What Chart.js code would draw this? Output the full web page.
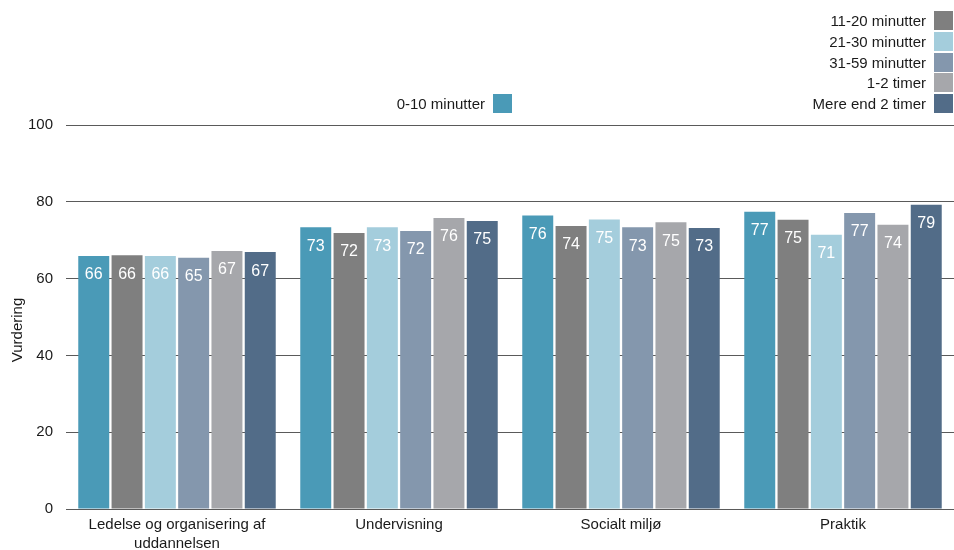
<!DOCTYPE html>
<html>
<head>
<meta charset="utf-8">
<script src="https://cdn.jsdelivr.net/npm/chart.js@4/dist/chart.umd.min.js"></script>
<style>
  body { margin: 0; background: #fff; }
  #wrap { position: relative; width: 954px; height: 550px; }
  .leg { position: absolute; display: flex; align-items: center; justify-content: flex-end;
         font: 15px "Liberation Sans", Arial, sans-serif; color: #1a1a1a; height: 19px; }
  .leg span.box { display: inline-block; width: 19px; height: 19px; margin-left: 8px; }
</style>
</head>
<body>
<div id="wrap">
  <canvas id="myChart" width="954" height="550"></canvas>
</div>
<script>
var categories = [['Ledelse og organisering af', 'uddannelsen'], 'Undervisning', 'Socialt miljø', 'Praktik'];
var seriesNames = ['0-10 minutter', '11-20 minutter', '21-30 minutter', '31-59 minutter', '1-2 timer', 'Mere end 2 timer'];
var min0_10  = [65.9, 73.4, 76.4, 77.4];
var min11_20 = [66.1, 71.9, 73.7, 75.3];
var min21_30 = [65.9, 73.4, 75.4, 71.4];
var min31_59 = [65.4, 72.4, 73.4, 77.1];
var timer1_2 = [67.2, 75.8, 74.7, 74.0];
var mereEnd2 = [66.9, 75.0, 73.2, 79.2];
var colors = ['#4a9ab7', '#7f7f7f', '#a4cddc', '#8497ad', '#a6a7ab', '#526c88'];
var yTicks = [0, 20, 40, 60, 80, 100];
var yTitle = 'Vurdering';

var seriesValues = [min0_10, min11_20, min21_30, min31_59, timer1_2, mereEnd2];
var fontFam = '"Liberation Sans", Arial, sans-serif';

// labels inside the top of each bar, plus the y title
var barLabels = {
  id: 'barLabels',
  afterDatasetsDraw: function(chart) {
    var ctx = chart.ctx;
    ctx.save();
    ctx.fillStyle = '#ffffff';
    ctx.font = '16px ' + fontFam;
    ctx.textAlign = 'center';
    ctx.textBaseline = 'middle';
    chart.data.datasets.forEach(function(ds, i) {
      chart.getDatasetMeta(i).data.forEach(function(bar, j) {
        ctx.fillText(Math.round(ds.data[j]), bar.x, bar.y + 19);
      });
    });
    // y axis title
    ctx.fillStyle = '#1a1a1a';
    ctx.font = '15px ' + fontFam;
    ctx.translate(18, 330);
    ctx.rotate(-Math.PI / 2);
    ctx.fillText(yTitle, 0, 0);
    ctx.restore();
  }
};

var lijndiagram = document.getElementById('myChart').getContext('2d');
var chart = new Chart(lijndiagram, {
    type: 'bar',
    data: {
        labels: categories,
        datasets: seriesNames.map(function(name, i) {
          return {
            label: name,
            data: seriesValues[i],
            backgroundColor: colors[i],
            categoryPercentage: 0.9,
            barPercentage: 0.93
          };
        })
    },
    options: {
      responsive: false,
      animation: false,
      layout: { padding: { top: 125, right: 0, left: 0, bottom: 0 } },
      plugins: { legend: { display: false }, tooltip: { enabled: false } },
      scales: {
        x: {
          afterFit: function(axis) { axis.height = 41; },
          grid: { display: false, drawTicks: false },
          border: { display: false },
          ticks: { color: '#1a1a1a', font: { family: fontFam, size: 15, lineHeight: 1.27 }, padding: 6, maxRotation: 0 }
        },
        y: {
          min: 0, max: 100,
          afterBuildTicks: function(axis) { axis.ticks = yTicks.map(function(v) { return { value: v }; }); },
          afterFit: function(axis) { axis.width = 66; },
          grid: { color: '#5a5a5a', drawTicks: false },
          border: { display: false },
          ticks: { color: '#1a1a1a', font: { family: fontFam, size: 15 }, padding: 13 }
        }
      }
    },
    plugins: [barLabels]
});

// legend: first series alone, the rest stacked at right
var wrap = document.getElementById('wrap');
seriesNames.forEach(function(name, i) {
  var d = document.createElement('div');
  d.className = 'leg';
  if (i === 0) {
    d.style.right = (954 - 512) + 'px';
    d.style.top = '94px';
  } else {
    d.style.right = '1px';
    d.style.top = (11 + (i - 1) * 20.8) + 'px';
  }
  d.innerHTML = name + '<span class="box" style="background:' + colors[i] + '"></span>';
  wrap.appendChild(d);
});
</script>
</body>
</html>
